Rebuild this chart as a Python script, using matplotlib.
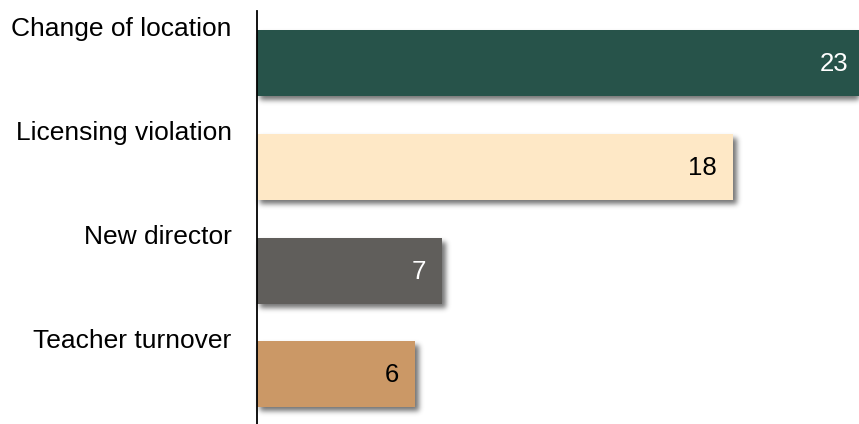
import matplotlib
matplotlib.use("Agg")
import matplotlib.pyplot as plt
import numpy as np

plt.rcParams['font.family'] = ['Liberation Sans', 'DejaVu Sans']

categories = ["Change of location", "Licensing violation", "New director", "Teacher turnover"]
values = [23, 18, 7, 6]
bar_colors = ["#27534A", "#FEE8C6", "#605E5B", "#CB9866"]
value_colors = ["white", "black", "white", "black"]

W, H, DPI = 859, 424, 100
fig = plt.figure(figsize=(W / DPI, H / DPI), dpi=DPI)
ax = fig.add_axes([256.5 / W, 0, 1 - 256.5 / W, (H - 11) / H])

bar_h = 0.635
ys = list(range(len(categories)))

ax.set_xlim(0, (W - 256.5) / 26.45)
ax.set_ylim(3.477, -0.5)

# soft drop shadow: bar footprints in pixel space, offset and blurred
mask = np.zeros((H, W))
for y, v in zip(ys, values):
    (x0, y0), (x1, y1) = ax.transData.transform([(0, y + bar_h / 2), (v, y - bar_h / 2)])
    sx, sy = 4, -4
    c0, c1 = int(round(x0 + sx)), int(round(x1 + sx))
    r0, r1 = int(round(y0 + sy)), int(round(y1 + sy))
    r0, r1 = max(r0, 0), min(r1, H)
    c0, c1 = max(c0, 0), min(c1, W)
    mask[r0:r1, c0:c1] = 1.0

sigma = 2.6
k = np.arange(-9, 10)
g = np.exp(-k ** 2 / (2 * sigma ** 2))
g /= g.sum()
mask = np.apply_along_axis(lambda r: np.convolve(r, g, mode='same'), 1, mask)
mask = np.apply_along_axis(lambda c: np.convolve(c, g, mode='same'), 0, mask)
rgba = np.zeros((H, W, 4))
rgba[..., 3] = mask * 0.55
fig.figimage(rgba, xo=0, yo=0, origin='lower', zorder=-1)
ax.patch.set_alpha(0)

ax.barh(ys, values, height=bar_h, color=bar_colors, zorder=2)

for y, v, c in zip(ys, values, value_colors):
    ax.annotate(str(v), xy=(v, y), xytext=(-16, -1), textcoords='offset pixels',
                ha='right', va='center', fontsize=18.5, color=c, zorder=3,
                annotation_clip=False)

for y, name in zip(ys, categories):
    ax.annotate(name, xy=(0, y - 0.325), xytext=(-25, 0), textcoords='offset pixels',
                ha='right', va='center', fontsize=19, color='black',
                annotation_clip=False)

ax.set_xticks([])
ax.set_yticks([])
for side in ['top', 'right', 'bottom']:
    ax.spines[side].set_visible(False)
ax.spines['left'].set_linewidth(1.3)
ax.spines['left'].set_zorder(4)

fig.savefig("out.png", dpi=DPI)
